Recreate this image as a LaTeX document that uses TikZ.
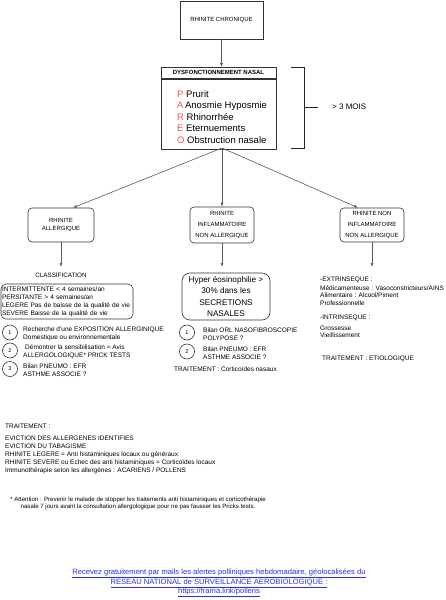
\documentclass[tikz,border=0pt]{standalone}
\usepackage{fontspec}
\setmainfont{Liberation Sans}
\usetikzlibrary{arrows.meta}
\definecolor{pareored}{RGB}{240,84,84}
\definecolor{linkblue}{RGB}{45,45,235}
\definecolor{linegray}{RGB}{90,90,90}

\begin{document}
\begin{tikzpicture}[x=1pt,y=-1pt,>={Latex[length=4pt,width=3pt]},
	box/.style={draw=black!80,line width=0.6pt,align=center,inner sep=1pt,font=\fontsize{6}{11}\selectfont},
	rbox/.style={box,rounded corners=4pt},
	num/.style={draw=black!80,line width=0.6pt,circle,minimum size=15pt,inner sep=0pt,font=\fontsize{5.5}{6}\selectfont},
	txt/.style={anchor=west,align=left,inner sep=0pt,font=\fontsize{6.5}{7.8}\selectfont},
	conn/.style={draw=linegray,line width=0.6pt}]
	\useasboundingbox (0,0) rectangle (446,600);
	\node[box,minimum width=83pt,minimum height=38pt] (chron) at (221.5,20) {RHINITE CHRONIQUE};
	\node[box,minimum width=115pt,minimum height=11pt,anchor=north,font=\bfseries\fontsize{6}{7}\selectfont] (dysf) at (218.5,67) {DYSFONCTIONNEMENT NASAL};
	\node[box,minimum width=115pt,minimum height=70pt,anchor=north] (pareobox) at (dysf.south) {};
	\node[txt,font=\fontsize{9.5}{11.5}\selectfont] (pareo) at (177,117) {\textcolor{pareored}{P} Prurit\\\textcolor{pareored}{A}\,Anosmie Hyposmie\\\textcolor{pareored}{R} Rhinorrhée\\\textcolor{pareored}{E} Eternuements\\\textcolor{pareored}{O} Obstruction nasale};
	\draw[draw=black!85,line width=0.8pt] (291,67) -- (304,67) -- (304,148) -- (291,148);
	\draw[draw=black!85,line width=0.8pt] (304,107) -- (318,107);
	\node[txt,font=\fontsize{8}{9}\selectfont] (duree) at (332,107) {> 3 MOIS};

	\coordinate (split) at (222,148);
	\node[rbox,minimum width=66pt,minimum height=34pt,font=\fontsize{6}{7.5}\selectfont] (allerg) at (61,225) {RHINITE\\ALLERGIQUE};
	\node[rbox,minimum width=64pt,minimum height=36pt] (inflam) at (222,225) {RHINITE\\INFLAMMATOIRE\\NON ALLERGIQUE};
	\node[rbox,minimum width=64pt,minimum height=34pt] (noninfl) at (372,225) {RHINITE NON\\INFLAMMATOIRE\\NON ALLERGIQUE};
	\draw[conn,->] (chron.south) -- (chron.south |- dysf.north);
	\draw[conn,->] (split) -- ([xshift=12pt]allerg.north);
	\draw[conn,->] (split) -- (inflam.north);
	\draw[conn,->] (split) -- ([xshift=-14pt]noninfl.north);

	\coordinate (classtop) at (61,267);
	\coordinate (hypertop) at (222,267);
	\coordinate (extrintop) at (372,267);
	\draw[conn,->] (allerg) -- (classtop);
	\draw[conn,->] (inflam) -- (hypertop);
	\draw[conn,->] (noninfl) -- (extrintop);

	\node[txt,anchor=center,font=\fontsize{6.3}{7}\selectfont] (classif) at (61,275) {CLASSIFICATION};
	\node[rbox,rounded corners=5pt,align=left,text width=130pt,inner xsep=1pt,minimum height=35pt,font=\fontsize{6.5}{8}\selectfont] (classbox) at (67,301.5) {INTERMITTENTE < 4 semaines/an\\PERSITANTE > 4 semaines/an\\LEGERE Pas de baisse de la qualité de vie\\SEVERE Baisse de la qualité de vie};
	\node[num] (n1) at (10,332.5) {1};
	\node[num] (n2) at (10,350.5) {2};
	\node[num] (n3) at (10,369) {3};
	\node[txt] (recherche) at (23,334) {Recherche d'une EXPOSITION ALLERGINIQUE\\Domestique ou environnementale};
	\node[txt] (sensib) at (23,352) {\hspace{2pt}Démontrer la sensibilisation = Avis\\ALLERGOLOGIQUE* PRICK TESTS};
	\node[txt] (pneumo) at (23,370.5) {Bilan PNEUMO : EFR\\ASTHME ASSOCIE ?};

	\node[rbox,rounded corners=8pt,minimum width=88pt,minimum height=47pt,font=\fontsize{8.2}{11.3}\selectfont] (hyper) at (226,296.5) {Hyper éosinophilie >\\30\% dans les\\SECRETIONS\\NASALES};
	\node[num] (m1) at (187,332.5) {1};
	\node[num] (m2) at (187,351.5) {2};
	\node[txt] (orl) at (203,334) {Bilan ORL NASOFIBROSCOPIE\\POLYPOSE ?};
	\node[txt] (pneumob) at (203,353) {Bilan PNEUMO : EFR\\ASTHME ASSOCIE ?};
	\node[txt] (cortico) at (174,369.5) {TRAITEMENT : Corticoïdes nasaux};

	\node[txt,anchor=north west] (extrin) at (320,276.5) {-EXTRINSEQUE :\\[1pt]Médicamenteuse : Vasoconstricteurs/AINS\\Alimentaire : Alcool/Piment\\Professionnelle};
	\node[txt,anchor=north west] (intrin) at (320,314.5) {-INTRINSEQUE :\\[3pt]Grossesse\\Vieillissement};
	\node[txt] (etio) at (322,359) {TRAITEMENT : ETIOLOGIQUE};

	\node[txt] (traitement) at (5,426) {TRAITEMENT :};
	\node[txt,anchor=north west,font=\fontsize{6.5}{8}\selectfont] (eviction) at (5,435.5) {EVICTION DES ALLERGENES IDENTIFIES\\EVICTION DU TABAGISME\\RHINITE LEGERE = Anti histaminiques locaux ou généraux\\RHINITE SEVERE ou Echec des anti histaminiques = Corticoïdes locaux\\Immunothérapie selon les allergènes : ACARIENS / POLLENS};
	\node[txt,align=center,anchor=center,font=\fontsize{6.1}{7.5}\selectfont] (attention) at (138,503.5) {* Attention : Prevenir le malade de stopper les traitements anti histaminiques et corticothérapie\\nasale 7 jours avant la consultation allergologique pour ne pas fausser les Pricks tests.};
	\node[txt,align=center,anchor=center,text=linkblue,font=\fontsize{7.6}{9.5}\selectfont] (reseau) at (219,583) {\underline{Recevez gratuitement par mails les alertes polliniques hebdomadaire, géolocalisées du}\\\underline{RESEAU NATIONAL de SURVEILLANCE AEROBIOLOGIQUE :}\\\underline{https://frama.link/pollens}};
\end{tikzpicture}
\end{document}
